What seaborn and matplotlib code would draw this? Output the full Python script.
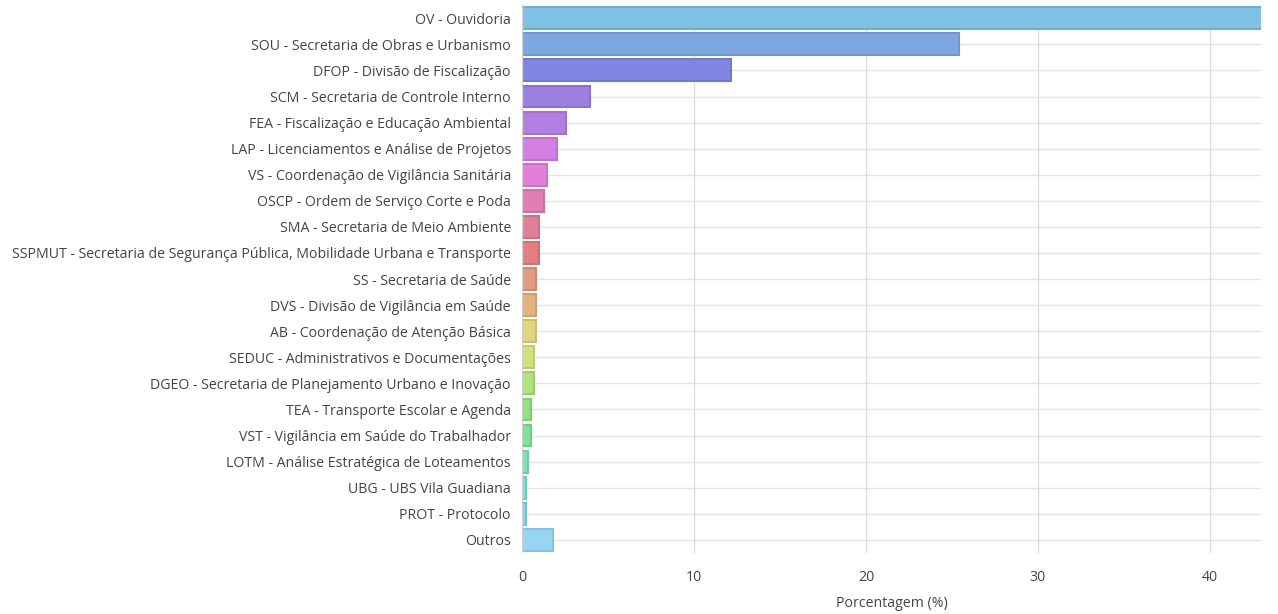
import pandas as pd
import matplotlib.pyplot as plt
import matplotlib.colors as mcolors
import seaborn as sns

sns.set_style("white")
plt.rcParams['font.family'] = ['Open Sans', 'DejaVu Sans']

setores = [
    "OV - Ouvidoria",
    "SOU - Secretaria de Obras e Urbanismo",
    "DFOP - Divisão de Fiscalização",
    "SCM - Secretaria de Controle Interno",
    "FEA - Fiscalização e Educação Ambiental",
    "LAP - Licenciamentos e Análise de Projetos",
    "VS - Coordenação de Vigilância Sanitária",
    "OSCP - Ordem de Serviço Corte e Poda",
    "SMA - Secretaria de Meio Ambiente",
    "SSPMUT - Secretaria de Segurança Pública, Mobilidade Urbana e Transporte",
    "SS - Secretaria de Saúde",
    "DVS - Divisão de Vigilância em Saúde",
    "AB - Coordenação de Atenção Básica",
    "SEDUC - Administrativos e Documentações",
    "DGEO - Secretaria de Planejamento Urbano e Inovação",
    "TEA - Transporte Escolar e Agenda",
    "VST - Vigilância em Saúde do Trabalhador",
    "LOTM - Análise Estratégica de Loteamentos",
    "UBG - UBS Vila Guadiana",
    "PROT - Protocolo",
    "Outros",
]
porcentagem = [43.8, 25.4, 12.15, 3.95, 2.56, 2.03, 1.45, 1.28, 0.99, 0.99,
               0.81, 0.81, 0.81, 0.70, 0.70, 0.52, 0.52, 0.35, 0.23, 0.23, 1.80]

cores = ['#7fc1e2', '#7fa7e2', '#7f86e2', '#9b80e2', '#b17fe2', '#d37fe2',
         '#e27fd8', '#e27fb2', '#e27f98', '#e27f82', '#e29b80', '#e2b37f',
         '#e2d57f', '#cfe27f', '#b0e27f', '#8fe27f', '#7fe294', '#7fe2b5',
         '#7fe2cf', '#7fd8e2', '#97d5f5']

df = pd.DataFrame({'setor': setores, 'pct': porcentagem})

fig = plt.figure(figsize=(12.78, 6.14), dpi=100)
ax = fig.add_axes([0.4085, 0.0995, 0.5785, 0.892])

sns.barplot(data=df, y='setor', x='pct', hue='setor', palette=cores,
            saturation=1, width=0.84, legend=False, ax=ax, zorder=3)

for patch, cor in zip(ax.patches, cores):
    escura = tuple(c * 0.9 for c in mcolors.to_rgb(cor))
    patch.set_facecolor(cor)
    patch.set_edgecolor(escura)
    patch.set_linewidth(1.5)

ax.set_xlim(0, 43)
ax.set_ylim(len(setores) - 0.5, -0.5)
ax.set_xticks([0, 10, 20, 30, 40])
for i in range(len(setores)):
    ax.axhline(i, color='#e4e4e4', lw=1, zorder=0)
for x in [10, 20, 30, 40]:
    ax.axvline(x, color='#dedede', lw=1, zorder=0)
ax.axvline(0, color='#d0d0d0', lw=1, zorder=4)

for s in ax.spines.values():
    s.set_visible(False)

ax.tick_params(axis='both', length=0, labelsize=10.2, colors='#444444')
ax.tick_params(axis='x', pad=12)
ax.tick_params(axis='y', pad=8)
ax.set_ylabel("")
ax.set_xlabel("Porcentagem (%)", fontsize=10.2, color='#444444', labelpad=8)

plt.savefig('out.png', dpi=100)
